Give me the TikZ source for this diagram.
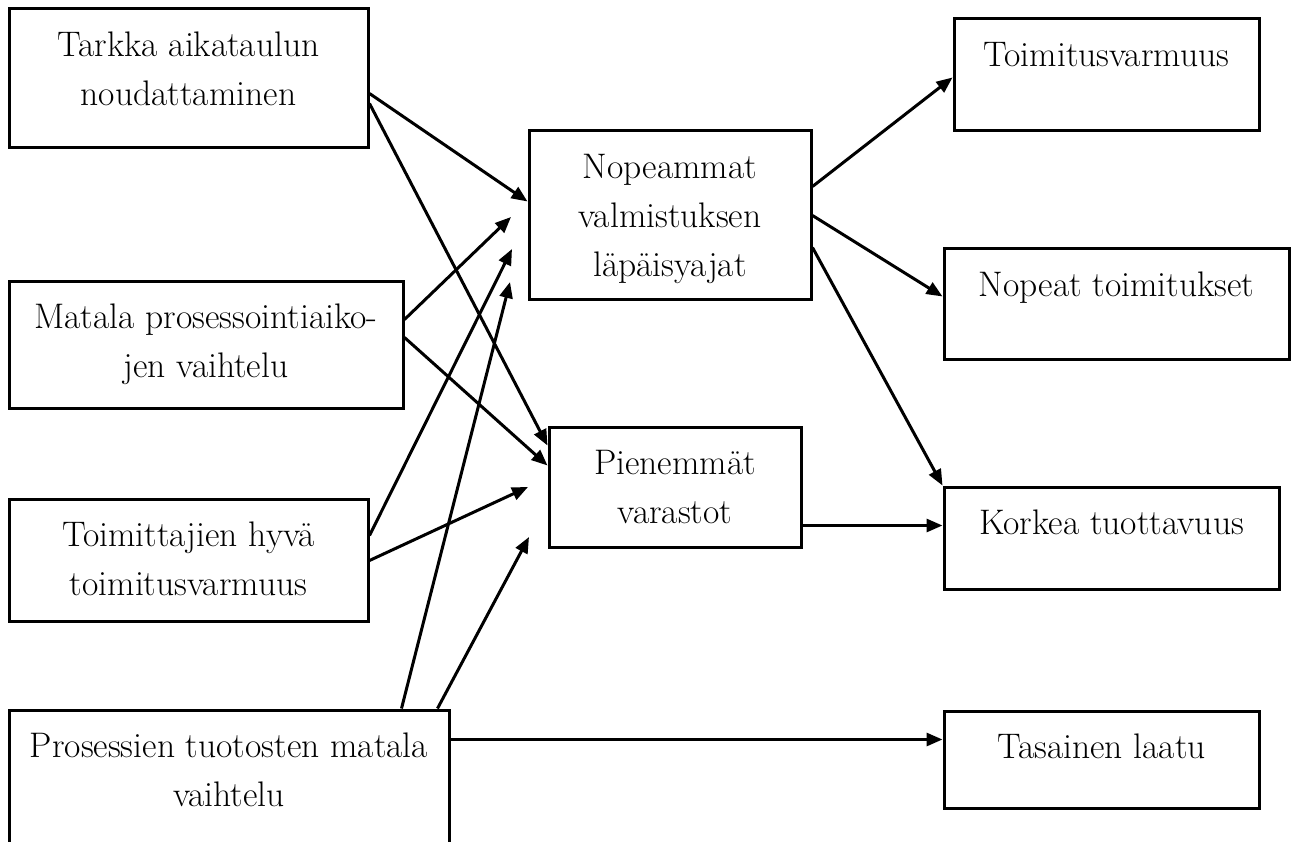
\documentclass[tikz,border=0pt]{standalone}
\usetikzlibrary{arrows.meta}

\tikzset{
  box/.style={draw, line width=3pt, rectangle, inner sep=0pt},
  txt/.style={align=center, inner sep=0pt, anchor=base,
    font=\fontsize{35.5}{49}\selectfont},
  link/.style={line width=3pt, -{Triangle[length=16pt,width=13pt]}}
}

\begin{document}
\begin{tikzpicture}[x=1pt, y=-1pt]
  \useasboundingbox (0,0) rectangle (1295,842);
  \clip (0,0) rectangle (1295,842);

  % causes (left column)
  \node[box, minimum width=359pt, minimum height=139pt] (tarkka) at (188.5,78.5) {};
  \node[box, minimum width=394pt, minimum height=127pt] (matala) at (206,344.5) {};
  \node[box, minimum width=359pt, minimum height=122pt] (toimittajat) at (188.5,560) {};
  \node[box, minimum width=440pt, minimum height=170pt] (prosessit) at (229,795) {};

  % intermediate effects
  \node[box, minimum width=282pt, minimum height=168pt] (nopeammat) at (670,215) {};
  \node[box, minimum width=252pt, minimum height=120pt] (varastot) at (675,487) {};

  % outcomes (right column)
  \node[box, minimum width=305pt, minimum height=112pt] (varmuus) at (1106.5,75) {};
  \node[box, minimum width=345pt, minimum height=110pt] (nopeat) at (1116.5,304) {};
  \node[box, minimum width=335pt, minimum height=102pt] (korkea) at (1111.5,538) {};
  \node[box, minimum width=315pt, minimum height=97pt] (tasainen) at (1101.5,759.5) {};

  % box texts: lines 49pt apart, first baseline 49pt below the top edge
  % (the base anchor of a multi-line node sits on its last line)
  \node[txt] (t-tarkka) at ([yshift=-98pt]tarkka.north) {Tarkka aikataulun\\noudattaminen};
  \node[txt] (t-matala) at ([yshift=-98pt]matala.north) {Matala prosessointiaiko-\\jen vaihtelu};
  \node[txt] (t-toimittajat) at ([yshift=-98pt]toimittajat.north) {Toimittajien hyvä\\toimitusvarmuus};
  \node[txt] (t-prosessit) at ([yshift=-98pt]prosessit.north) {Prosessien tuotosten matala\\vaihtelu};
  \node[txt] (t-nopeammat) at ([yshift=-147pt]nopeammat.north) {Nopeammat\\valmistuksen\\läpäisyajat};
  \node[txt] (t-varastot) at ([yshift=-98pt]varastot.north) {Pienemmät\\varastot};
  \node[txt] (t-varmuus) at ([yshift=-49pt]varmuus.north) {Toimitusvarmuus};
  \node[txt] (t-nopeat) at ([yshift=-49pt]nopeat.north) {Nopeat toimitukset};
  \node[txt] (t-korkea) at ([yshift=-49pt]korkea.north) {Korkea tuottavuus};
  \node[txt] (t-tasainen) at ([yshift=-49pt]tasainen.north) {Tasainen laatu};

  % arrow ends that stop short of a box
  \coordinate (e-matala) at (511,217);
  \coordinate (e-toim1) at (512,249);
  \coordinate (e-toim2) at (528,487);
  \coordinate (e-pros1) at (510,282);
  \coordinate (e-pros2) at (529,537);

  % connectors
  \draw[link] ([yshift=-86pt]tarkka.north east) -- ([yshift=-72pt]nopeammat.north west);
  \draw[link] ([yshift=-96pt]tarkka.north east) -- ([yshift=-20pt]varastot.north west);
  \draw[link] ([yshift=-40pt]matala.north east) -- (e-matala);
  \draw[link] ([yshift=-58pt]matala.north east) -- ([yshift=-40pt]varastot.north west);
  \draw[link] ([yshift=-38pt]toimittajat.north east) -- (e-toim1);
  \draw[link] ([yshift=-63pt]toimittajat.north east) -- (e-toim2);
  \draw[link] ([xshift=394pt]prosessit.north west) -- (e-pros1);
  \draw[link] ([xshift=430pt]prosessit.north west) -- (e-pros2);
  \draw[link] ([yshift=-31pt]prosessit.north east) -- ([yshift=-30pt]tasainen.north west);
  \draw[link] ([yshift=-57pt]nopeammat.north east) -- ([yshift=-60pt]varmuus.north west);
  \draw[link] ([yshift=-86pt]nopeammat.north east) -- ([yshift=-49pt]nopeat.north west);
  \draw[link] ([yshift=-118pt]nopeammat.north east) -- (korkea.north west);
  \draw[link] ([yshift=-100pt]varastot.north east) -- ([yshift=-40pt]korkea.north west);
\end{tikzpicture}
\end{document}
